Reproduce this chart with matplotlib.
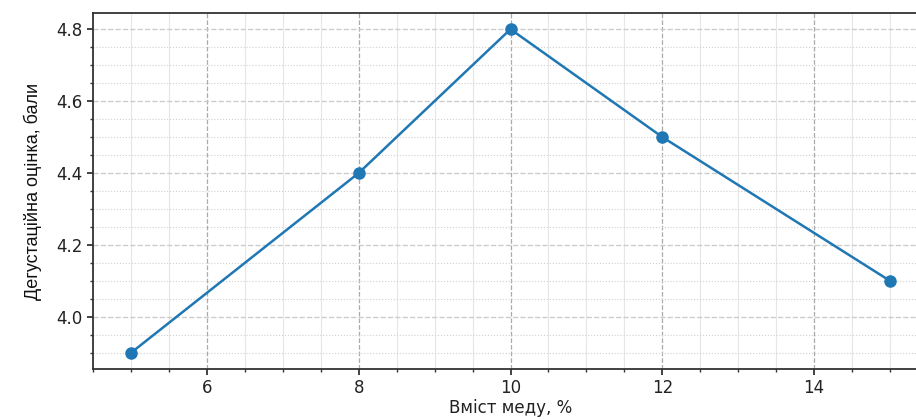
import matplotlib
matplotlib.use("Agg")
import matplotlib.pyplot as plt
from matplotlib.ticker import AutoMinorLocator, MultipleLocator, FormatStrFormatter
from matplotlib import font_manager

honey = [5, 8, 10, 12, 15]
score = [3.9, 4.4, 4.8, 4.5, 4.1]
xlabel = "Вміст меду, %"
ylabel = "Дегустаційна оцінка, бали"

names = {f.name for f in font_manager.fontManager.ttflist}
narrow = "Liberation Sans Narrow" if "Liberation Sans Narrow" in names else (
    "DejaVu Sans Condensed" if "DejaVu Sans Condensed" in names else "Liberation Sans")

fig = plt.figure(figsize=(9.16, 4.19), dpi=100)
ax = fig.add_axes([93/916, 50/419, (928-93)/916, (369-13)/419])

ax.plot(honey, score, color="#1f77b4", linewidth=1.8, marker="o", markersize=8)

ax.set_xlim(4.5, 15.5)
ax.set_ylim(3.855, 4.845)
ax.xaxis.set_major_locator(MultipleLocator(2))
ax.yaxis.set_major_locator(MultipleLocator(0.2))
ax.xaxis.set_minor_locator(AutoMinorLocator(4))
ax.yaxis.set_minor_locator(AutoMinorLocator(4))
ax.yaxis.set_major_formatter(FormatStrFormatter("%.1f"))

ax.grid(which="major", axis="x", linestyle="--", color="#aaaaaa", linewidth=0.9)
ax.grid(which="major", axis="y", linestyle="--", color="#cccccc", linewidth=1.0)
ax.grid(which="minor", axis="x", linestyle="-", color="#e6e6e6", linewidth=0.8)
ax.grid(which="minor", axis="y", linestyle=":", color="#d0d0d0", linewidth=0.8)
ax.set_axisbelow(True)

for s in ax.spines.values():
    s.set_color("#333333")
    s.set_linewidth(1.3)
ax.spines["right"].set_visible(False)

ax.tick_params(which="major", length=4, width=1.2, labelsize=12, colors="#222222")
ax.tick_params(which="minor", length=2.5, width=1.0, colors="#333333")

ax.set_xlabel(xlabel, fontsize=12, color="#222222", labelpad=1)
ax.set_ylabel(ylabel, fontsize=13, family=[narrow, "DejaVu Sans"], color="#111111", labelpad=10)

fig.savefig("out.png", dpi=100)
